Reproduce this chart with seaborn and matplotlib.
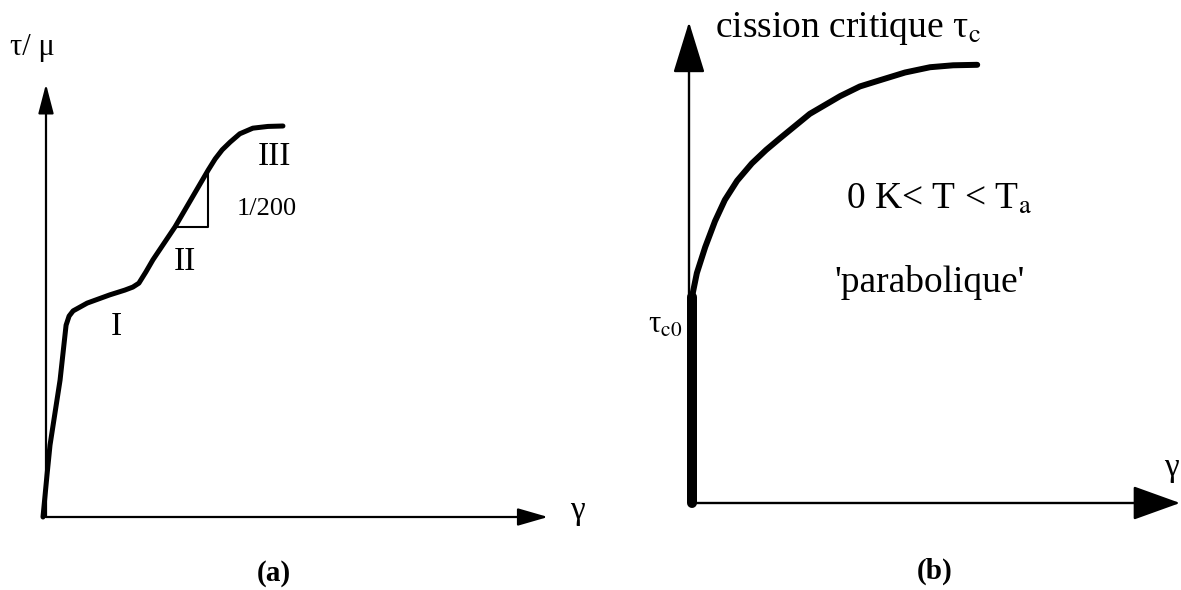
import matplotlib
matplotlib.use("Agg")
import matplotlib.pyplot as plt
import seaborn as sns

# ---------------- data (schematic units: axis tip = 100) ----------------
# panel (a): work-hardening curve of a single crystal, stages I, II, III
gamma_a = [-0.6, 0.2, 0.8, 2.8, 4.0, 4.6, 5.4, 6.8, 8.2, 12.7, 15.7, 17.3, 18.5, 19.9,
           21.3, 25.7, 32.3, 33.7, 35.1, 36.7, 38.6, 41.2, 44.2, 47.2]
tau_a = [0.0, 9.7, 16.6, 31.6, 44.3, 46.4, 47.6, 48.5, 49.4, 51.3, 52.4, 53.1, 54.0, 56.6,
         59.4, 67.0, 80.1, 82.7, 84.8, 86.6, 88.5, 89.8, 90.2, 90.3]
# slope triangle (1/200)
tri_gamma = [25.7, 32.3, 32.3]
tri_tau = [67.0, 67.0, 79.7]
stage_labels = ["I", "II", "III"]
stage_gamma = [14.1, 27.7, 45.6]
stage_tau = [42.0, 57.0, 81.3]

# panel (b): critical resolved shear stress, 'parabolic' hardening
tc0_gamma = [0.6, 0.6]
tc0_tau = [0.0, 42.8]
gamma_b = [0.6, 1.6, 3.3, 5.3, 7.3, 9.8, 12.8, 15.7, 18.5, 24.6, 30.8, 34.8, 38.9, 44.0,
           49.1, 53.8, 58.7]
tau_b = [42.8, 47.8, 53.2, 58.6, 63.0, 67.0, 70.6, 73.4, 75.8, 80.9, 84.6, 86.6, 87.9, 89.5,
         90.6, 91.0, 91.1]

# ---------------- style ----------------
sns.set_theme(style="white")
plt.rcParams["font.family"] = ["Liberation Serif", "DejaVu Serif"]
plt.rcParams["mathtext.fontset"] = "stix"
plt.rcParams["text.color"] = "black"

W, H = 1181, 590
fig = plt.figure(figsize=(W / 100, H / 100), dpi=100)
fig.patch.set_facecolor("white")


def px_axes(x0, y0, x1, y1):
    """axes whose (0,0) sits at pixel (x0, y0) and (100,100) at (x1, y1)"""
    ax = fig.add_axes([x0 / W, 1 - y0 / H, (x1 - x0) / W, (y0 - y1) / H])
    ax.set_xlim(0, 100)
    ax.set_ylim(0, 100)
    ax.axis("off")
    return ax


def arrow(ax, xy, xytext, hl, hw, lw):
    ax.annotate("", xy=xy, xytext=xytext, annotation_clip=False,
                arrowprops=dict(arrowstyle=f"-|>,head_length={hl},head_width={hw}",
                                mutation_scale=1, lw=lw, color="black",
                                shrinkA=0, shrinkB=0))


line_kw = dict(sort=False, estimator=None, color="black",
               solid_capstyle="round", solid_joinstyle="round", clip_on=False)

# ---------------- panel (a) ----------------
ax_a = px_axes(46, 517, 548, 84)
arrow(ax_a, (100, 0), (0, 0), 18.7, 5.4, 1.6)
arrow(ax_a, (0, 100), (0, 0), 18.0, 4.7, 1.6)
sns.lineplot(x=gamma_a, y=tau_a, linewidth=3.6, ax=ax_a, **line_kw)
sns.lineplot(x=tri_gamma, y=tri_tau, linewidth=1.5, ax=ax_a, **line_kw)

for lab, gx, ty in zip(stage_labels, stage_gamma, stage_tau):
    ax_a.text(gx, ty, lab, ha="center", va="baseline", fontsize=24)
ax_a.text(44.0, 69.7, "1/200", ha="center", va="baseline", fontsize=19)
ax_a.text(-7.2, 106.7, "τ/ μ", ha="left", va="baseline", fontsize=22)
ax_a.text(104.4, 1.4, "γ", ha="left", va="center", fontsize=24)
ax_a.text(45.4, -13.0, "(a)", ha="center", va="center", fontsize=21, fontweight="bold")

# ---------------- panel (b) ----------------
ax_b = px_axes(689, 503, 1180, 22)
arrow(ax_b, (100, 0), (0, 0), 30.0, 10.8, 1.7)
arrow(ax_b, (0, 100), (0, 0), 32.4, 10.0, 1.7)
sns.lineplot(x=tc0_gamma, y=tc0_tau, linewidth=7.2, ax=ax_b, **line_kw)
sns.lineplot(x=gamma_b, y=tau_b, linewidth=4.3, ax=ax_b, **line_kw)

ax_b.text(5.3, 96.9, r"cission critique τ$_\mathrm{c}$", ha="left", va="baseline", fontsize=27)
ax_b.text(32.0, 61.1, r"0 K< T < T$_\mathrm{a}$", ha="left", va="baseline", fontsize=27)
ax_b.text(29.7, 43.9, "'parabolique'", ha="left", va="baseline", fontsize=27)
ax_b.text(-1.4, 35.3, r"τ$_\mathrm{c0}$", ha="right", va="baseline", fontsize=22)
ax_b.text(98.2, 7.3, "γ", ha="center", va="center", fontsize=24)
ax_b.text(50.1, -14.3, "(b)", ha="center", va="center", fontsize=21, fontweight="bold")

fig.savefig("out.png", dpi=100, facecolor="white")
